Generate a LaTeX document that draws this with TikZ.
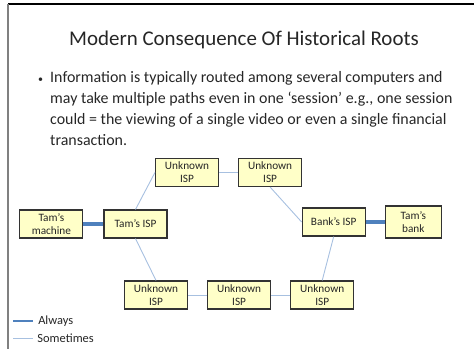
\documentclass[tikz,border=0pt]{standalone}
\usepackage{fontspec}
\setmainfont{Carlito}
\usetikzlibrary{positioning}

\definecolor{isp}{HTML}{FFFFC8}
\definecolor{always}{HTML}{4F81BD}
\definecolor{sometimes}{HTML}{A7C0E0}
\definecolor{slidetext}{HTML}{262626}

\begin{document}
\begin{tikzpicture}[
        x=1bp, y=-1bp,
        node distance=19bp,
        every node/.style={text=slidetext},
        ispbox/.style={draw=black!80, line width=1.1bp, fill=isp, align=center,
            minimum width=63bp, minimum height=28bp, inner sep=1bp,
            font=\fontsize{11.3}{13}\selectfont},
        always/.style={draw=always, line width=3.5bp},
        sometimes/.style={draw=sometimes, line width=0.9bp},
        legendlbl/.style={right=3bp, font=\fontsize{12.5}{14}\selectfont, inner sep=1bp}
    ]
    \useasboundingbox (0,0) rectangle (474,349);

    % Slide frame
    \draw[black, line width=1.2bp] (8,4) -- (474,4);
    \draw[gray, line width=1.5bp] (8,4) -- (8,349);

    % Texts
    \node (title) at (244,40) {\fontsize{21}{25}\selectfont Modern Consequence Of Historical Roots};
    \node (bullet) [anchor=north west, align=left, inner sep=0pt,
        font=\fontsize{16}{21.3}\selectfont] at (38,71)
        {\makebox[12bp][l]{\fontsize{10}{10}\selectfont\textbullet}Information is typically routed among several computers and\\
        \hspace*{12bp}may take multiple paths even in one `session' e.g., one session\\
        \hspace*{12bp}could = the viewing of a single video or even a single financial\\
        \hspace*{12bp}transaction.};

    % Nodes
    \node (tamisp) [ispbox] at (135.5,224) {Tam's ISP};
    \node (machine) [ispbox, left=20bp of tamisp] {Tam's\\ machine};
    \node (unk1) [ispbox] at (187,172.5) {Unknown\\ ISP};
    \node (unk2) [ispbox, right=of unk1] {Unknown\\ ISP};
    \node (bankisp) [ispbox] at (333.7,222) {Bank's ISP};
    \node (bank) [ispbox, right=of bankisp, minimum width=56bp, minimum height=32bp] {Tam's\\ bank};
    \node (unk5) [ispbox] at (156,295) {Unknown\\ ISP};
    \node (unk4) [ispbox, right=of unk5] {Unknown\\ ISP};
    \node (unk3) [ispbox, right=of unk4] {Unknown\\ ISP};

    % Edges
    \draw[always] (machine) -- (tamisp);
    \draw[always] (bankisp) -- (bank);
    \draw[sometimes] (tamisp.north) -- (unk1.west);
    \draw[sometimes] (unk1) -- (unk2);
    \draw[sometimes] (unk2.south) -- (bankisp.west);
    \draw[sometimes] (bankisp.south) -- (unk3.north);
    \draw[sometimes] (unk3) -- (unk4);
    \draw[sometimes] (unk4) -- (unk5);
    \draw[sometimes] (unk5.north) -- (tamisp.south);

    % Legend
    \coordinate (la) at (13,321);
    \coordinate (lb) at (33,321);
    \coordinate (lc) at (13,338);
    \coordinate (ld) at (33,338);
    \draw[always, line width=2.5bp] (la) -- (lb) node (alwayslbl) [legendlbl] {Always};
    \draw[sometimes] (lc) -- (ld) node (sometimeslbl) [legendlbl] {Sometimes};
\end{tikzpicture}
\end{document}
